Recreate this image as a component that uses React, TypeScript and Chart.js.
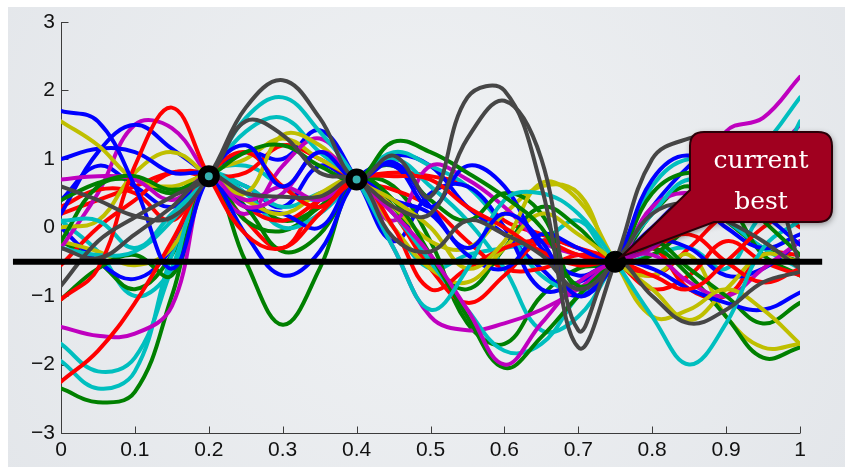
import React, { useEffect, useRef } from "react";
import { Chart, registerables } from "chart.js";

Chart.register(...registerables);

// x grid of the sampled functions
const xGrid = [0, 0.05, 0.1, 0.15, 0.2, 0.25, 0.3, 0.35, 0.4, 0.45, 0.5, 0.55, 0.6, 0.65, 0.7, 0.75, 0.8, 0.85, 0.9, 0.95, 1];

// posterior sample curves
const grey1 = [0.6, 0.4, 0.17, 0.15, 0.75, 1.75, 2.15, 1.6, 0.7, 1.05, 0.45, 1.9, 2.0, 0.6, -1.75, -0.5, 1.0, 1.3, 1.35, 1.0, -0.55];
const grey2 = [-0.85, -0.2, 0.15, 0.45, 0.75, 1.55, 1.35, 0.8, 0.7, 0.3, 0.2, 1.3, 1.85, 1.0, -1.5, -0.5, -1.0, -1.4, -1.2, -0.8, -0.65];
const grey3 = [-0.3, -0.45, -0.1, 0.3, 0.75, 0.5, 0.45, 0.45, 0.7, -0.15, -0.35, 0.1, -0.1, -0.4, -0.9, -0.5, 0.2, 0.35, 0.1, -0.2, -0.6];
const blue1 = [1.7, 1.55, 0.6, -0.6, 0.75, 1.2, 0.6, 1.1, 0.7, 0.95, 0.3, -0.3, 0.2, -0.2, -1.0, -0.5, 0.7, 1.05, 0.6, 0.2, -0.25];
const blue2 = [1.0, 1.15, 1.1, 0.8, 0.75, -0.1, -0.7, -0.35, 0.7, 0.9, 0.3, 0.9, 0.6, -0.3, -0.7, -0.5, -0.6, -0.9, -1.1, -1.2, -0.95];
const blue3 = [0.2, 1.1, 1.5, 1.15, 0.75, 0.3, 0.2, 0.0, 0.7, 0.4, 0.2, -0.4, -0.6, -0.1, -0.3, -0.5, -0.2, -0.3, -0.7, -0.6, -0.2];
const blue4 = [0.0, -0.5, -0.75, -0.3, 0.75, 1.1, 1.0, 1.42, 0.7, -0.2, 0.5, 0.6, 0.0, -0.9, -0.8, -0.5, 0.0, 0.4, 0.0, -0.3, -0.1];
const blue5 = [0.4, 0.9, 0.6, 0.3, 0.75, 0.6, 0.3, 0.9, 0.7, 1.05, 0.9, 0.3, -0.1, -0.6, -1.0, -0.5, 0.3, 0.9, 1.3, 0.9, 0.2];
const green1 = [0.4, 0.65, 0.75, 0.55, 0.75, 1.1, 1.2, 0.9, 0.7, 1.25, 1.1, 0.8, 0.45, 0.0, -0.85, -0.5, 0.5, 0.8, 0.6, 0.1, -0.4];
const green2 = [-0.2, 0.6, 0.7, 0.5, 0.75, -0.5, -1.42, -0.6, 0.7, 0.4, -0.4, -1.3, -2.05, -1.6, -1.0, -0.5, -0.2, -0.6, -1.0, -1.4, -1.1];
const green3 = [-1.05, -0.6, -0.4, -0.7, 0.75, 0.3, -0.35, -0.1, 0.7, 0.9, 0.4, 0.1, 0.5, 0.2, -0.9, -0.5, -0.3, -0.7, -1.3, -1.9, -1.75];
const green4 = [-2.35, -2.55, -2.4, -1.0, 0.75, 0.1, -0.05, 0.3, 0.7, 0.3, -0.5, -0.9, -0.3, 0.3, 0.0, -0.5, -0.4, 0.0, 0.3, -0.4, -0.7];
const green5 = [-0.2, -0.5, -0.9, -0.4, 0.75, 0.5, 0.1, 0.3, 0.7, 0.6, -0.2, -1.4, -1.7, -1.0, -0.6, -0.5, 0.2, 0.6, 0.1, -0.3, -0.5];
const red1 = [-1.05, -0.6, 0.9, 1.75, 0.75, -0.1, -0.3, 0.2, 0.7, 0.75, 0.7, 0.3, 0.0, -0.35, -0.55, -0.5, -0.7, -0.9, -0.5, 0.0, 0.3];
const red2 = [-2.25, -1.8, -1.1, -0.2, 0.75, 1.1, 0.6, 0.3, 0.7, 0.0, -0.9, -0.6, -0.3, -0.2, -0.4, -0.5, -0.3, -0.1, -0.5, -0.8, -0.6];
const red3 = [0.3, 0.55, 0.5, 0.1, 0.75, 0.3, 0.1, 0.4, 0.7, 0.2, -0.6, -1.1, -0.7, -0.2, -0.3, -0.5, -0.9, -0.7, -0.2, -0.5, -0.7];
const red4 = [-0.55, 0.0, 0.4, 0.8, 0.75, 0.8, 1.2, 1.0, 0.7, 0.55, 0.3, -0.2, -0.6, -0.6, -0.4, -0.5, -0.7, -0.3, 0.2, 0.4, 0.0];
const red5 = [0.2, 0.4, 0.6, 0.8, 0.75, 0.1, -0.3, 0.4, 0.7, 0.8, 0.75, 0.6, 0.1, -0.1, -0.3, -0.5, -0.3, -0.9, -1.0, -0.4, -0.4];
const cyan1 = [0.1, 0.1, -0.3, 0.2, 0.75, 1.6, 1.9, 1.4, 0.7, -0.3, -1.2, -0.6, 0.4, 0.5, 0.2, -0.5, -1.3, -2.0, -1.4, -0.3, 0.1];
const cyan2 = [-0.3, -0.4, -0.35, 0.1, 0.75, 1.4, 1.6, 1.1, 0.7, 0.2, -0.5, -1.2, -1.8, -1.7, -1.0, -0.5, 0.6, 1.0, 0.8, 1.2, 1.9];
const cyan3 = [-1.7, -2.1, -1.9, -0.6, 0.75, 0.5, 0.0, 0.2, 0.7, 1.0, 0.6, 0.1, -0.6, -1.5, -1.3, -0.5, 0.2, 0.7, 0.4, 0.5, 1.55];
const cyan4 = [-1.95, -2.35, -2.1, -0.4, 0.75, 0.6, 0.3, 0.5, 0.7, 1.1, 0.9, 0.6, 0.0, -0.7, -0.9, -0.5, -0.2, 0.4, 0.1, -0.3, -0.6];
const cyan5 = [0.1, -0.35, -1.0, -0.6, 0.75, 0.9, 0.6, 0.4, 0.7, 0.0, -0.6, -0.4, -0.3, -0.2, 0.1, -0.5, -0.4, -0.3, -0.6, 0.2, 0.4];
const magenta1 = [0.7, 0.75, 0.7, 0.4, 0.75, 0.3, 0.5, 1.1, 0.7, 0.2, -0.4, -1.2, -2.0, -1.4, -0.8, -0.5, -0.3, 0.3, 1.4, 1.6, 2.2];
const magenta2 = [-1.45, -1.58, -1.55, -1.15, 0.75, 0.4, 0.6, 0.4, 0.7, -0.3, -1.3, -1.5, -1.4, -1.2, -0.9, -0.5, -0.4, -0.8, -1.0, -0.6, -0.2];
const magenta3 = [-0.3, 0.5, 1.5, 1.45, 0.75, 0.2, 0.9, 1.3, 0.7, 0.1, 0.9, 0.7, 0.3, -0.2, -0.4, -0.5, 0.3, 0.5, 0.2, 0.9, 1.5];
const yellow1 = [1.55, 1.2, 0.7, 0.6, 0.75, 0.5, 1.35, 1.2, 0.7, 0.4, 0.0, -0.6, -0.2, 0.65, 0.4, -0.5, -1.3, -1.2, -0.9, -1.2, -1.7];
const yellow2 = [0.0, 0.1, 0.8, 1.1, 0.75, 0.4, 0.2, 0.5, 0.7, 0.0, -0.6, -0.8, -0.3, 0.2, -0.1, -0.5, -0.9, -1.35, -0.9, -0.4, -0.5];
const yellow3 = [-0.2, -0.35, -0.55, -0.3, 0.75, 1.0, 1.3, 1.0, 0.7, 0.3, -0.2, -0.3, 0.2, 0.6, 0.5, -0.5, -0.7, -0.4, -1.3, -1.75, -1.7];

// observations and current best
const obsX = [0.2, 0.4, 0.75];
const obsY = [0.75, 0.7, -0.5];
const bestLineX = [-0.065, 1.03];
const bestValue = -0.5;

// axis ticks
const xTicks = [0, 0.1, 0.2, 0.3, 0.4, 0.5, 0.6, 0.7, 0.8, 0.9, 1];
const yTicks = [-3, -2, -1, 0, 1, 2, 3];
const calloutLines = ["current", "best"];

const BLUE = "#0000ff";
const GREEN = "#008000";
const RED = "#ff0000";
const CYAN = "#00bfbf";
const MAGENTA = "#bf00bf";
const YELLOW = "#bfbf00";
const GREY = "#464646";

const curves: [number[], string][] = [
  [grey1, GREY], [grey2, GREY], [grey3, GREY],
  [blue1, BLUE], [green1, GREEN], [red1, RED], [cyan1, CYAN], [magenta1, MAGENTA], [yellow1, YELLOW],
  [blue2, BLUE], [green2, GREEN], [red2, RED], [cyan2, CYAN], [magenta2, MAGENTA], [yellow2, YELLOW],
  [blue3, BLUE], [green3, GREEN], [red3, RED], [cyan3, CYAN], [magenta3, MAGENTA], [yellow3, YELLOW],
  [blue4, BLUE], [green4, GREEN], [red4, RED], [cyan4, CYAN],
  [blue5, BLUE], [green5, GREEN], [red5, RED], [cyan5, CYAN],
];

const fmt = (v: number) => {
  const r = Math.round(v * 10) / 10;
  return r < 0 ? "\u2212" + Math.abs(r) : String(r);
};

const decorPlugin = {
  id: "decor",
  beforeDraw(chart: any) {
    const { ctx, width, height } = chart;
    ctx.save();
    ctx.fillStyle = "#ffffff";
    ctx.fillRect(0, 0, width, height);
    const g = ctx.createRadialGradient(width * 0.5, height * 0.45, 50, width * 0.5, height * 0.45, width * 0.6);
    g.addColorStop(0, "#eff1f3");
    g.addColorStop(1, "#e3e6ea");
    ctx.fillStyle = g;
    ctx.fillRect(8, 7, width - 8, height - 7);
    ctx.restore();
  },
  beforeDatasetsDraw(chart: any) {
    const { ctx } = chart;
    const xs = chart.scales.x;
    const ys = chart.scales.y;
    ctx.save();
    ctx.strokeStyle = "#3c3c3c";
    ctx.lineWidth = 1;
    const left = Math.round(xs.getPixelForValue(0)) + 0.5;
    const bottom = Math.round(ys.getPixelForValue(-3)) + 0.5;
    ctx.beginPath();
    ctx.moveTo(left, ys.getPixelForValue(3));
    ctx.lineTo(left, bottom);
    ctx.lineTo(xs.getPixelForValue(1), bottom);
    for (const t of yTicks) {
      const py = Math.round(ys.getPixelForValue(t)) + 0.5;
      ctx.moveTo(left, py);
      ctx.lineTo(left + 7, py);
    }
    for (const t of xTicks) {
      const px = Math.round(xs.getPixelForValue(t)) + 0.5;
      ctx.moveTo(px, bottom);
      ctx.lineTo(px, bottom - 7);
    }
    ctx.stroke();
    ctx.restore();
  },
  afterDraw(chart: any) {
    const { ctx } = chart;
    const xs = chart.scales.x;
    const ys = chart.scales.y;
    const tipX = xs.getPixelForValue(obsX[2]) + 6;
    const tipY = ys.getPixelForValue(obsY[2]) - 5;
    const bx = 690, by = 132, bw = 142, bh = 90, r = 14;
    ctx.save();
    ctx.beginPath();
    ctx.moveTo(bx + r, by);
    ctx.lineTo(bx + bw - r, by);
    ctx.quadraticCurveTo(bx + bw, by, bx + bw, by + r);
    ctx.lineTo(bx + bw, by + bh - r);
    ctx.quadraticCurveTo(bx + bw, by + bh, bx + bw - r, by + bh);
    ctx.lineTo(bx + 24, by + bh);
    ctx.lineTo(tipX, tipY);
    ctx.lineTo(bx, by + 58);
    ctx.lineTo(bx, by + r);
    ctx.quadraticCurveTo(bx, by, bx + r, by);
    ctx.closePath();
    ctx.shadowColor = "rgba(0,0,0,0.45)";
    ctx.shadowBlur = 6;
    ctx.shadowOffsetX = 1;
    ctx.shadowOffsetY = 2;
    ctx.fillStyle = "#a0001f";
    ctx.fill();
    ctx.shadowColor = "transparent";
    ctx.lineWidth = 2;
    ctx.strokeStyle = "#2a0008";
    ctx.stroke();
    ctx.fillStyle = "#ffffff";
    ctx.font = '25px "DejaVu Serif", "Liberation Serif", serif';
    ctx.textAlign = "center";
    ctx.textBaseline = "alphabetic";
    ctx.fillText(calloutLines[0], 761, 168);
    ctx.fillText(calloutLines[1], 761, 209);
    ctx.restore();
  },
};

export default function App() {
  const ref = useRef<HTMLCanvasElement>(null);
  useEffect(() => {
    document.body.style.margin = "0";
    const datasets: any[] = [];
    datasets.push({
      label: "observations",
      data: obsX.map((x, i) => ({ x, y: obsY[i] })),
      showLine: false,
      pointRadius: [7.5, 7.5, 10.5],
      pointBorderWidth: [7, 7, 1],
      pointBackgroundColor: ["#35b0b0", "#35b0b0", "#000000"],
      pointBorderColor: "#000000",
      order: 0,
    });
    datasets.push({
      label: "current best",
      data: bestLineX.map((x) => ({ x, y: bestValue })),
      borderColor: "#000000",
      borderWidth: 6,
      pointRadius: 0,
      tension: 0,
      clip: false,
      order: 1,
    });
    curves.forEach(([vals, color], i) => {
      datasets.push({
        label: "sample " + (i + 1),
        data: xGrid.map((x, j) => ({ x, y: vals[j] })),
        borderColor: color,
        borderWidth: 4,
        pointRadius: 0,
        tension: 0.4,
        borderCapStyle: "round",
        borderJoinStyle: "round",
        order: 2 + i,
      });
    });
    const tickFont = { family: '"Liberation Sans Narrow", "Liberation Sans", Arial, sans-serif', size: 21 };
    const chart = new Chart(ref.current as HTMLCanvasElement, {
      type: "line",
      data: { datasets },
      options: {
        animation: false,
        responsive: false,
        maintainAspectRatio: false,
        layout: { padding: { top: 22, right: 45, left: 0, bottom: 0 } },
        plugins: { legend: { display: false }, tooltip: { enabled: false } },
        scales: {
          x: {
            type: "linear",
            min: 0,
            max: 1,
            afterBuildTicks: (s: any) => { s.ticks = xTicks.map((v) => ({ value: v })); },
            afterFit: (s: any) => { s.height = 34; },
            grid: { display: false, drawTicks: false },
            border: { display: false },
            ticks: { color: "#111", font: tickFont, padding: 5, maxRotation: 0, autoSkip: false, callback: (v: any) => fmt(Number(v)) },
          },
          y: {
            type: "linear",
            min: -3,
            max: 3,
            afterBuildTicks: (s: any) => { s.ticks = yTicks.map((v) => ({ value: v })); },
            afterFit: (s: any) => { s.width = 61; },
            grid: { display: false, drawTicks: false },
            border: { display: false },
            ticks: { color: "#111", font: tickFont, padding: 6, autoSkip: false, callback: (v: any) => fmt(Number(v)) },
          },
        },
      },
      plugins: [decorPlugin],
    });
    return () => chart.destroy();
  }, []);
  return (
    <div style={{ width: 845, height: 467 }}>
      <canvas ref={ref} width={845} height={467} style={{ display: "block", width: 845, height: 467 }} />
    </div>
  );
}
